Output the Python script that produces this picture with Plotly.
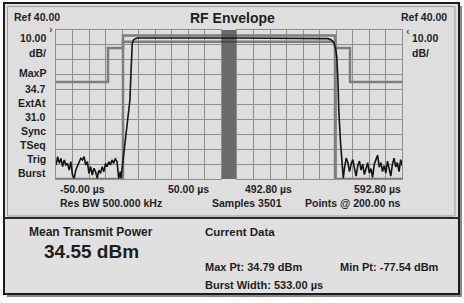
import plotly.graph_objects as go

# ---------------- data ----------------
# envelope trace, left window (-50 .. 50 us)
env_left_t = [-50, -49, -48, -47, -46, -45, -44, -43, -42, -41, -40, -39, -38, -37, -36, -35,
              -34, -33, -32, -31, -30, -29, -28, -27, -26, -25, -24, -23, -22, -21, -20, -19,
              -18, -17, -16, -15, -14, -13, -12, -11,
              -10.6, -9.6, -8.0, -6.5, -5.2, -4.6, -4.2, -3.8, -3.0, -2.0, -0.5, 50.0]
env_left_db = [-50.6, -45.0, -49.5, -46.1, -51.7, -47.2, -50.6, -49.5, -54.0, -48.4, -57.3, -59.5,
               -54.0, -51.7, -48.4, -46.1, -47.2, -45.0, -50.6, -48.4, -56.2, -51.7, -57.3, -52.8,
               -55.1, -59.5, -54.0, -56.2, -51.7, -55.1, -49.5, -51.7, -48.4, -50.6, -47.2, -49.5,
               -46.1, -48.4, -59.5, -55.1,
               -59.5, -50.0, -35.0, -20.0, -7.0, 10.0, 25.0, 31.0, 33.3, 34.2, 34.6, 34.6]

# envelope trace, right window (492.8 .. 592.8 us)
env_right_t = [492.8, 545.0, 548.0, 550.0, 551.5, 552.5, 553.3, 554.0, 554.5, 555.5, 556.5, 557.2,
               558, 559, 560, 561, 562, 563, 564, 565, 566, 567, 568, 569, 570, 571, 572, 573,
               574, 575, 576, 577, 578, 579, 580, 581, 582, 583, 584, 585, 586, 587, 588, 589,
               590, 591, 592, 592.8]
env_right_db = [34.6, 34.6, 34.2, 33.3, 31.5, 28.0, 22.0, 5.0, -14.0, -35.0, -52.0, -59.5,
                -52, -46, -49, -55, -50, -47, -53, -58, -51, -48, -54, -50, -57, -52, -49, -56,
                -53, -59, -50, -47, -44, -52, -49, -55, -51, -56, -48, -53, -58, -50, -46, -52,
                -49, -55, -47, -51]

# upper / lower limit masks
upper_left_t = [-50, -18.5, -18.5, -9.4, -9.4, 50]
upper_left_db = [5.1, 5.1, 27.9, 27.9, 36.3, 36.3]
upper_right_t = [492.8, 552.2, 552.2, 561.3, 561.3, 592.8]
upper_right_db = [36.3, 36.3, 27.9, 27.9, 5.1, 5.1]
lower_left_t = [-50, -9.4, -9.4, 50]
lower_left_db = [-60, -60, 32.1, 32.1]
lower_right_t = [492.8, 552.2, 552.2, 592.8]
lower_right_db = [32.1, 32.1, -60, -60]

left_range = [-50, 50]
right_range = [492.8, 592.8]
y_range = [-60, 40]

left_labels = ["10.00", "dB/", "MaxP", "34.7", "ExtAt", "31.0", "Sync", "TSeq", "Trig", "Burst"]
x_labels = ["-50.00 µs", "50.00 µs", "492.80 µs", "592.80 µs"]

# ---------------- layout helpers ----------------
W, H = 464, 303
def px(x):
    return x / W
def py(y):
    return 1 - y / H

FONT = "Arial, Liberation Sans, sans-serif"
TXT = "#1e1e1e"
MASK = "#7d7d7d"
TRACE = "#141414"
GRID = "#8e8e8e"

fig = go.Figure()

def add_line(x, y, color, width, xa, ya):
    fig.add_trace(go.Scatter(x=x, y=y, mode="lines", xaxis=xa, yaxis=ya,
                             line=dict(color=color, width=width), hoverinfo="skip",
                             showlegend=False))

add_line(upper_left_t, upper_left_db, MASK, 2.5, "x", "y")
add_line(lower_left_t, lower_left_db, MASK, 2.5, "x", "y")
add_line(env_left_t, env_left_db, TRACE, 1.6, "x", "y")
add_line(upper_right_t, upper_right_db, MASK, 2.5, "x2", "y2")
add_line(lower_right_t, lower_right_db, MASK, 2.5, "x2", "y2")
add_line(env_right_t, env_right_db, TRACE, 1.6, "x2", "y2")

ydom = [py(179), py(30)]
axis_common = dict(showgrid=True, gridcolor=GRID, gridwidth=1, showline=True, mirror=True,
                   linecolor=GRID, linewidth=1, zeroline=False, showticklabels=False,
                   ticks="", fixedrange=True)

fig.update_layout(
    width=W, height=H, autosize=False,
    margin=dict(l=0, r=0, t=0, b=0, pad=0),
    paper_bgcolor="white", plot_bgcolor="white",
    showlegend=False,
    xaxis=dict(domain=[px(56), px(221)], range=left_range, dtick=10, tick0=0, anchor="y", **axis_common),
    xaxis2=dict(domain=[px(237), px(402)], range=right_range, dtick=10, tick0=492.8, anchor="y2", **axis_common),
    yaxis=dict(domain=ydom, range=y_range, dtick=10, tick0=0, anchor="x", **axis_common),
    yaxis2=dict(domain=ydom, range=y_range, dtick=10, tick0=0, anchor="x2", **axis_common),
)

shapes = []
# frame shadow and frame
shapes.append(dict(type="rect", xref="paper", yref="paper", x0=px(7), x1=px(462), y0=py(297), y1=py(6),
                   fillcolor="#8a8a8a", line=dict(width=0), layer="below"))
shapes.append(dict(type="rect", xref="paper", yref="paper", x0=px(4), x1=px(459), y0=py(294), y1=py(3),
                   fillcolor="#e0e0e0", line=dict(color="#1c1c1c", width=2), layer="below"))
# inner upper panel border
shapes.append(dict(type="rect", xref="paper", yref="paper", x0=px(7.5), x1=px(455), y0=py(216), y1=py(6.5),
                   fillcolor="#dedede", line=dict(color="#9a9a9a", width=1), layer="below"))
# divider between upper and lower panel
shapes.append(dict(type="line", xref="paper", yref="paper", x0=px(4), x1=px(459), y0=py(218), y1=py(218),
                   line=dict(color="#2a2a2a", width=2), layer="below"))
# gray break bar between the two time windows
shapes.append(dict(type="rect", xref="paper", yref="paper", x0=px(221), x1=px(237), y0=py(179), y1=py(30),
                   fillcolor="#6a6a6a", line=dict(width=0), layer="below"))
# lines continuing across the break bar (levels taken from data)
for lvl, col in [(upper_left_db[-1], "#5a5a5a"), (env_left_db[-1], "#2a2a2a"), (lower_left_db[-1], "#4a4a4a")]:
    shapes.append(dict(type="line", xref="paper", yref="y", x0=px(221), x1=px(237), y0=lvl, y1=lvl,
                       line=dict(color=col, width=2), layer="above"))
fig.update_layout(shapes=shapes)

ann = []
def text(x, y, s, size=11, xanchor="left", color=TXT):
    ann.append(dict(x=px(x), y=py(y), xref="paper", yref="paper", text="<b>" + s + "</b>",
                    showarrow=False, xanchor=xanchor, yanchor="middle",
                    font=dict(family=FONT, size=size, color=color)))

text(232, 18, "RF Envelope", 14, "center")
text(12, 17, "Ref 40.00", 10.5, "left")
text(449, 17, "Ref 40.00", 10.5, "right")
text(55, 29, "›", 11, "right", "#555")
text(404, 31, "‹", 11, "left", "#555")

label_y = [38, 53, 73, 89, 103, 117, 131, 145, 159, 173]
for s, yy in zip(left_labels, label_y):
    text(48, yy, s, 10.5, "right")
text(410, 38, left_labels[0], 10.5, "left")
text(410, 53, left_labels[1], 10.5, "left")

text(58, 189, x_labels[0], 10.5, "left")
text(166, 189, x_labels[1], 10.5, "left")
text(243, 189, x_labels[2], 10.5, "left")
text(403, 189, x_labels[3], 10.5, "right")

text(58, 203, "Res BW 500.000 kHz", 10.5, "left")
text(210, 203, "Samples 3501", 10.5, "left")
text(403, 203, "Points @ 200.00 ns", 10.5, "right")

text(91, 232, "Mean Transmit Power", 12, "center")
text(91, 251, "34.55 dBm", 19, "center")
text(203, 232, "Current Data", 11.5, "left")
text(203, 267, "Max Pt: 34.79 dBm", 11, "left")
text(441, 267, "Min Pt: -77.54 dBm", 11, "right")
text(203, 285, "Burst Width: 533.00 µs", 11, "left")

fig.update_layout(annotations=ann)

fig.write_html("out.html")
